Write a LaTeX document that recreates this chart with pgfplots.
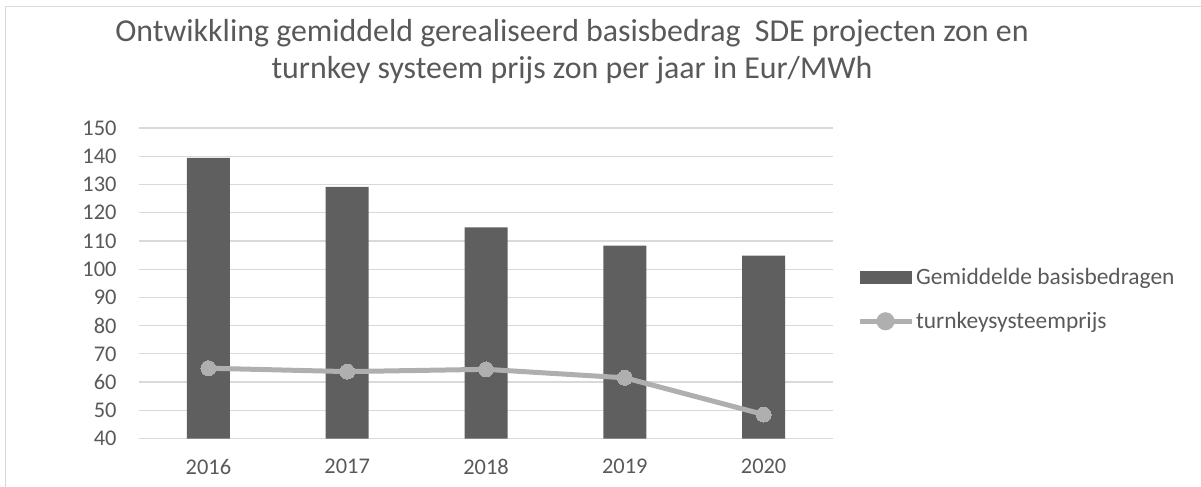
\documentclass[border=0pt]{standalone}
\usepackage{pgfplots}
\pgfplotsset{compat=1.18}
\usepackage{fontspec}
\setmainfont{Carlito}
\definecolor{barc}{HTML}{5F5F5F}
\definecolor{lnc}{HTML}{AFAFAF}
\definecolor{gridc}{HTML}{D9D9D9}
\definecolor{txt}{HTML}{595959}
\begin{document}
\begin{tikzpicture}
\path[use as bounding box] (0bp,0bp) rectangle (1201bp,487bp);
\draw[gridc, line width=1.3bp] (5.7bp,0bp) -- (5.7bp,480.3bp) -- (1201bp,480.3bp);
\node[txt, font=\fontsize{32}{37}\selectfont, align=center] at (572bp,435bp) {Ontwikkling gemiddeld gerealiseerd basisbedrag\ \ SDE projecten zon en\\turnkey systeem prijs zon per jaar in Eur/MWh};
\begin{axis}[
  at={(139bp,48.5bp)}, anchor=south west,
  width=694bp, height=310.5bp, scale only axis,
  xmin=-0.5, xmax=4.5, ymin=40, ymax=150,
  xtick={0,1,2,3,4},
  xticklabels={2016,2017,2018,2019,2020},
  ytick={40,50,...,150},
  ymajorgrids, major grid style={gridc, line width=1.2bp},
  axis line style={draw=none},
  major tick length=0pt,
  tick label style={txt, font=\fontsize{22.5}{26}\selectfont},
  /pgf/number format/assume math mode=true,
  yticklabel style={xshift=-19bp},
  xticklabel style={yshift=-17bp},
  legend style={at={(1.03,0.448)}, anchor=west, draw=none, fill=none,
    font=\fontsize{23.5}{27}\selectfont, text=txt, row sep=22bp},
  legend cell align=left,
]
\addplot[ybar, bar width=43bp, fill=barc, draw=none,
  legend image code/.code={\fill[barc] (0bp,-6.5bp) rectangle (52bp,6.5bp);}]
  coordinates {(0,139.4) (1,129.1) (2,114.8) (3,108.3) (4,104.8)};
\addlegendentry{Gemiddelde basisbedragen}
\addplot[lnc, line width=5bp, mark=*, mark size=7.5bp, mark options={fill=lnc, draw=lnc, line width=0pt},
  legend image code/.code={\draw[lnc, line width=5bp] (0bp,0bp) -- (52bp,0bp); \fill[lnc] (26bp,0bp) circle (6.5bp);}]
  coordinates {(0,64.9) (1,63.7) (2,64.5) (3,61.5) (4,48.5)};
\addlegendentry{turnkeysysteemprijs}
\end{axis}
\end{tikzpicture}
\end{document}
